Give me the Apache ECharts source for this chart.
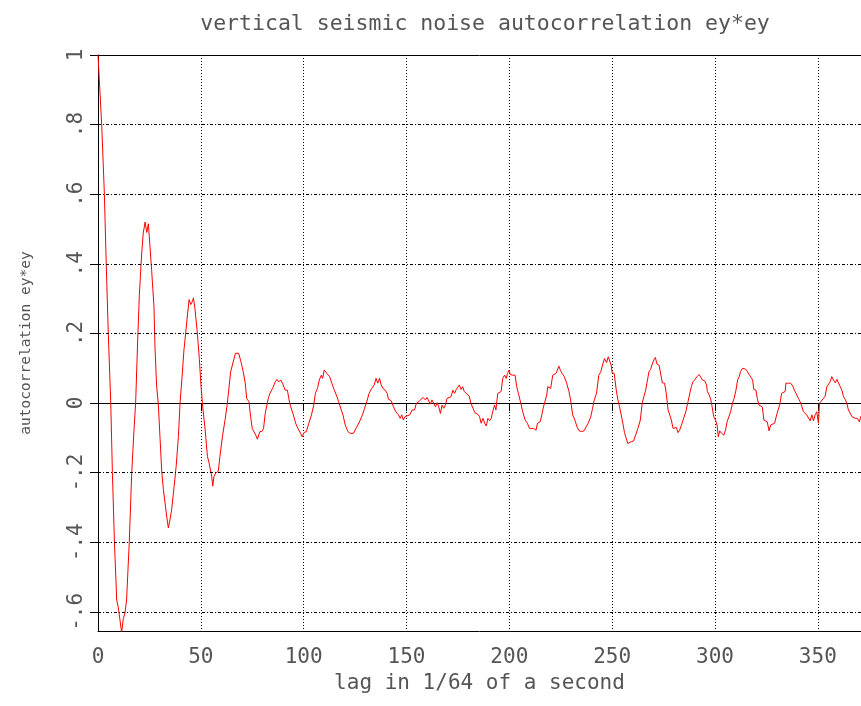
<!DOCTYPE html>
<html><head><meta charset="utf-8">
<script src="https://cdn.jsdelivr.net/npm/echarts@6/dist/echarts.min.js"></script>
<style>html,body{margin:0;padding:0;background:#fff}#c{width:861px;height:706px}</style>
</head><body><div id="c"></div>
<script>
const titleText = 'vertical seismic noise autocorrelation ey*ey';
const xName = 'lag in 1/64 of a second';
const yName = 'autocorrelation ey*ey';
const yTicks = [-0.6, -0.4, -0.2, 0, 0.2, 0.4, 0.6, 0.8, 1];
const yGrid = [-0.6, -0.4, -0.2, 0.2, 0.4, 0.6, 0.8];

const lags = [
0,1.8,3.1,4.0,5.0,6.2,7.0,8.0,9.1,9.8,10.6,11.5,12.3,13.1,13.9,15.2,16.4,17.5,18.3,19.3,
20.1,21.2,22.0,22.9,23.7,24.5,25.0,26.1,27.2,27.7,28.5,29.3,30.2,31.0,31.8,32.6,33.4,34.2,35.0,35.8,
37.0,38.0,39.1,39.9,40.9,41.8,42.8,43.6,44.3,45.1,45.9,46.4,47.2,48.3,49.3,50.1,50.9,52.1,53.2,54.0,
54.8,55.3,55.8,56.4,57.2,58.5,59.3,60.5,61.8,62.9,64.5,66.0,66.8,68.4,69.5,70.6,71.6,72.3,73.4,74.2,
75.0,75.9,76.7,77.5,78.7,79.7,80.5,81.3,82.1,82.8,83.6,84.9,86.2,87.0,87.8,88.9,89.7,91.0,92.1,92.9,
93.7,95.0,96.1,97.2,98.5,99.3,100.1,101.3,102.5,103.8,104.9,105.7,106.7,107.6,108.6,109.2,110.0,111.3,112.6,113.7,
114.9,116.2,117.0,118.3,119.1,120.2,121.5,122.6,124.2,125.4,126.4,127.5,128.6,129.6,130.7,131.8,133.1,134.3,135.2,136.0,
136.9,137.7,138.5,139.6,140.6,141.2,142.5,143.7,144.8,146.1,146.9,147.7,148.5,149.3,150.3,151.6,152.7,153.9,154.8,156.0,
157.1,158.1,159.2,160.0,160.8,161.6,162.4,163.2,164.1,164.9,165.7,166.5,167.3,168.1,168.9,169.7,170.5,171.6,172.6,173.4,
174.2,175.0,175.7,176.5,177.3,178.1,179.4,180.5,181.3,182.1,183.3,184.6,185.5,186.3,187.2,188.0,188.8,189.6,190.4,191.2,
191.9,192.8,193.5,193.9,194.4,195.2,196.0,196.8,197.7,198.5,199.1,199.9,200.4,201.5,202.8,203.6,204.4,205.6,206.5,207.7,
208.8,209.8,210.6,211.7,213.0,213.7,215.0,215.8,216.6,217.4,218.2,218.7,219.5,220.1,221.1,221.7,222.7,223.3,224.1,224.9,
225.7,226.7,227.9,229.0,229.8,230.8,231.9,233.0,234.0,235.1,236.3,237.2,238.4,239.5,240.5,241.3,242.4,243.5,244.5,245.3,
246.3,247.3,248.1,248.9,249.5,250.0,251.0,252.0,252.8,253.6,254.4,255.2,256.0,256.8,257.6,258.5,259.3,260.4,261.4,262.5,
263.7,264.6,265.4,266.3,266.9,267.9,268.7,269.5,270.3,271.0,271.8,272.8,273.6,274.4,275.5,276.3,277.2,278.0,278.8,279.6,
280.4,281.2,282.0,282.8,283.7,284.5,285.8,286.9,287.7,288.5,289.3,290.3,291.3,292.3,293.1,293.9,295.0,295.9,296.3,297.2,
298.0,298.6,299.4,300.4,301.1,301.6,302.3,303.2,304.3,305.1,305.9,306.7,307.6,308.5,309.3,310.2,311.0,311.8,312.4,313.4,
314.2,315.0,315.8,316.6,317.5,318.3,318.9,319.9,320.6,321.4,322.2,323.0,323.8,324.6,325.4,326.3,327.1,328.0,329.0,330.0,
330.8,331.6,332.4,333.2,334.1,334.5,335.7,336.8,337.8,338.6,339.4,340.6,341.4,342.2,343.0,343.8,344.6,345.5,346.3,347.1,
347.9,348.7,349.5,350.3,350.8,351.6,352.7,353.6,354.4,355.2,356.0,356.8,357.6,358.5,359.3,360.1,360.9,361.7,362.5,363.3,
364.1,364.9,365.8,366.6,367.4,368.2,369.3,370.2,371.0
];

const values = [
1.0,0.8,0.6,0.4,0.2,0.0,-0.2,-0.4,-0.566,-0.585,-0.62,-0.66,-0.619,-0.604,-0.566,-0.4,-0.2,-0.078,0,0.181,
0.31,0.425,0.488,0.52,0.49,0.515,0.51,0.38,0.278,0.163,0.048,0,-0.105,-0.198,-0.249,-0.287,-0.326,-0.359,-0.335,-0.307,
-0.24,-0.182,-0.096,0,0.077,0.153,0.211,0.259,0.297,0.283,0.292,0.302,0.268,0.201,0.125,0.048,-0.01,-0.077,-0.153,-0.172,
-0.172,-0.211,-0.239,-0.211,-0.201,-0.196,-0.153,-0.096,-0.048,0,0.09,0.124,0.143,0.143,0.119,0.09,0.057,0.013,0.004,-0.039,
-0.073,-0.078,-0.092,-0.104,-0.082,-0.082,-0.073,-0.03,-0.034,0.013,0.028,0.042,0.061,0.068,0.061,0.066,0.057,0.037,0.037,0.009,
-0.011,-0.034,-0.058,-0.073,-0.087,-0.097,-0.085,-0.082,-0.058,-0.034,-0.006,0.028,0.042,0.066,0.08,0.071,0.095,0.085,0.076,0.057,
0.037,0.018,0.004,-0.02,-0.034,-0.063,-0.082,-0.087,-0.087,-0.073,-0.063,-0.049,-0.034,-0.015,0.004,0.028,0.042,0.052,0.071,0.057,
0.071,0.052,0.042,0.037,0.028,0.011,0.007,-0.011,-0.025,-0.034,-0.044,-0.034,-0.049,-0.039,-0.037,-0.034,-0.02,-0.02,-0.001,0.004,
0.011,0.016,0.009,0.016,0.011,-0.003,0.009,-0.001,-0.011,0.001,-0.011,-0.03,-0.006,-0.015,-0.006,0.013,0.011,0.018,0.037,0.028,
0.039,0.037,0.052,0.039,0.047,0.033,0.026,0.02,-0.001,-0.006,-0.028,-0.032,-0.039,-0.058,-0.044,-0.058,-0.066,-0.044,-0.051,-0.044,
-0.025,-0.006,-0.02,0.004,0.028,0.033,0.033,0.071,0.08,0.071,0.085,0.095,0.082,0.08,0.08,0.047,0.028,-0.001,-0.025,-0.049,
-0.058,-0.073,-0.07,-0.073,-0.078,-0.058,-0.054,-0.034,-0.011,-0.006,0.023,0.047,0.052,0.042,0.08,0.085,0.085,0.09,0.106,0.093,
0.085,0.076,0.057,0.033,0.009,-0.034,-0.049,-0.07,-0.08,-0.082,-0.08,-0.078,-0.057,-0.041,-0.015,0.009,0.028,0.08,0.09,0.109,
0.128,0.116,0.133,0.138,0.109,0.087,0.085,0.037,0.009,-0.011,-0.034,-0.058,-0.085,-0.087,-0.116,-0.118,-0.111,-0.109,-0.092,-0.073,
-0.049,-0.001,0.018,0.037,0.057,0.09,0.097,0.112,0.124,0.131,0.112,0.109,0.104,0.058,0.057,0.028,-0.02,-0.02,-0.049,-0.073,
-0.076,-0.07,-0.085,-0.078,-0.063,-0.049,-0.025,0.004,0.026,0.047,0.061,0.068,0.076,0.082,0.074,0.066,0.064,0.052,0.033,0.023,
0.009,-0.011,-0.039,-0.051,-0.066,-0.097,-0.08,-0.087,-0.092,-0.078,-0.054,-0.054,-0.025,-0.001,0.013,0.037,0.066,0.076,0.09,0.1,
0.102,0.097,0.09,0.082,0.074,0.066,0.039,0.037,0.013,-0.006,-0.011,-0.011,-0.049,-0.049,-0.054,-0.08,-0.063,-0.06,-0.058,-0.034,
-0.018,-0.001,0.028,0.033,0.033,0.057,0.057,0.057,0.049,0.037,0.028,0.013,0.004,-0.009,-0.025,-0.028,-0.034,-0.039,-0.051,-0.034,
-0.051,-0.034,-0.025,-0.058,-0.001,0.004,0.013,0.02,0.047,0.052,0.061,0.076,0.066,0.058,0.068,0.057,0.047,0.037,0.018,0.011,
-0.001,-0.02,-0.025,-0.039,-0.044,-0.044,-0.044,-0.054,-0.037
];

const X_MIN = 0, X_MAX = 371, X_STEP = 50;
const Y_MIN = -0.655, Y_MAX = 1;

const FONT = "'DejaVu Sans Mono', monospace";
const TXT = '#555';

const seriesData = lags.map((l, i) => [l, values[i]]);

const chart = echarts.init(document.getElementById('c'), null, { renderer: 'canvas' });
chart.setOption({
  animation: false,
  backgroundColor: '#fff',
  title: {
    text: titleText,
    left: 480,
    top: 8,
    textAlign: 'center',
    textStyle: { fontFamily: FONT, fontSize: 21.5, fontWeight: 'normal', color: TXT }
  },
  grid: { left: 98, right: 0, top: 55, bottom: 75, containLabel: false },
  xAxis: [
    {
      type: 'value', min: X_MIN, max: X_MAX, interval: X_STEP, position: 'bottom',
      axisLine: { show: true, onZero: false, lineStyle: { color: '#000', width: 1 } },
      axisTick: { show: false },
      axisLabel: { showMaxLabel: false, margin: 16, fontFamily: FONT, fontSize: 21, color: TXT },
      splitLine: { show: true, lineStyle: { color: '#000', width: 1, type: [1, 2] } },
      name: xName, nameLocation: 'middle', nameGap: 42,
      nameTextStyle: { fontFamily: FONT, fontSize: 21, color: TXT }
    },
    {
      type: 'value', min: X_MIN, max: X_MAX, interval: X_STEP, position: 'bottom',
      axisLine: { show: true, onZero: true, lineStyle: { color: '#000', width: 1 } },
      axisTick: { show: true, inside: false, length: 8, lineStyle: { color: '#000', width: 1 } },
      axisLabel: { show: false },
      splitLine: { show: false }
    },
    {
      type: 'value', min: X_MIN, max: X_MAX, position: 'top',
      axisLine: { show: true, onZero: false, lineStyle: { color: '#000', width: 1 } },
      axisTick: { show: false }, axisLabel: { show: false }, splitLine: { show: false }
    }
  ],
  yAxis: {
    type: 'value', min: Y_MIN, max: Y_MAX, position: 'left',
    axisLine: { show: true, onZero: false, lineStyle: { color: '#000', width: 1 } },
    axisTick: { show: true, length: 8, customValues: yTicks, lineStyle: { color: '#000', width: 1 } },
    axisLabel: {
      customValues: yTicks, rotate: 90, margin: 11, fontFamily: FONT, fontSize: 21, color: TXT,
      formatter: v => {
        const r = Math.round(v * 10) / 10;
        if (r === 0) return '0';
        if (r === 1) return '1';
        return r.toFixed(1).replace('0.', '.');
      }
    },
    splitLine: { show: false },
    name: yName, nameLocation: 'middle', nameGap: 64,
    nameTextStyle: { fontFamily: FONT, fontSize: 14.5, color: TXT }
  },
  series: [{
    type: 'line',
    xAxisIndex: 0, yAxisIndex: 0,
    data: seriesData,
    showSymbol: false,
    symbol: 'none',
    clip: true,
    lineStyle: { color: '#ff0000', width: 1 },
    markLine: {
      silent: true, symbol: ['none', 'none'], label: { show: false },
      lineStyle: { color: '#000', width: 1, type: [3, 2, 1, 2] },
      data: yGrid.map(v => ({ yAxis: v }))
    }
  }]
});
</script>
</body></html>
